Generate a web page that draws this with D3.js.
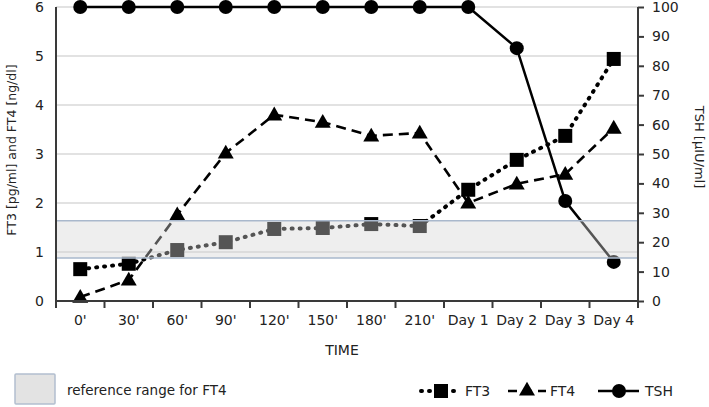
<!DOCTYPE html>
<html><head><meta charset="utf-8">
<script src="https://cdn.jsdelivr.net/npm/d3@7"></script>
<style>body{margin:0;background:#fff}svg{display:block}text{font-family:"DejaVu Sans",Verdana,sans-serif;fill:#222}</style>
</head><body><svg id="c" width="709" height="407"></svg>
<script>
const categories = ["0'","30'","60'","90'","120'","150'","180'","210'","Day 1","Day 2","Day 3","Day 4"];
const ft3 = [0.65,0.76,1.04,1.2,1.47,1.49,1.57,1.53,2.27,2.88,3.37,4.94];
const ft4 = [0.08,0.43,1.76,3.02,3.8,3.65,3.37,3.43,2.0,2.39,2.59,3.53];
const tsh = [100,100,100,100,100,100,100,100,100,86,34,13.3];
const leftTicks = [0,1,2,3,4,5,6];
const rightTicks = [0,10,20,30,40,50,60,70,80,90,100];
const refRange = [0.88,1.64];

const svg = d3.select("#c");
const L=56,R=638,T=7,B=301;
const x = d3.scaleBand().domain(categories).range([L,R]);
const yl = d3.scaleLinear().domain([0,6]).range([B,T]);
const yr = d3.scaleLinear().domain([0,100]).range([B,T]);

// grid
svg.append("g").selectAll("line").data(leftTicks.slice(1)).join("line")
  .attr("x1",L).attr("x2",R).attr("y1",d=>yl(d)).attr("y2",d=>yl(d))
  .attr("stroke","#e2e2e2").attr("stroke-width",2);

const cx = d=>x(d)+x.bandwidth()/2;
function series(vals, scale, dash, width){
  const line = d3.line().x((d,i)=>cx(categories[i])).y(d=>scale(d));
  svg.append("path").datum(vals).attr("d",line).attr("fill","none")
    .attr("stroke","#000").attr("stroke-width",width)
    .attr("stroke-dasharray",dash).attr("stroke-linecap",dash==="1,7"?"round":"butt");
}
series(ft3, yl, "1,7", 4);
series(ft4, yl, "10,6", 2.6);
series(tsh, yr, null, 2.5);
// markers
svg.append("g").selectAll("rect").data(ft3).join("rect")
  .attr("x",(d,i)=>cx(categories[i])-7).attr("y",d=>yl(d)-7).attr("width",14).attr("height",14).attr("fill","#000");
const tri = d3.symbol().type(d3.symbolTriangle).size(110);
svg.append("g").selectAll("path").data(ft4).join("path")
  .attr("d",tri).attr("transform",(d,i)=>`translate(${cx(categories[i])},${yl(d)+1})`).attr("fill","#000");
svg.append("g").selectAll("circle").data(tsh).join("circle")
  .attr("cx",(d,i)=>cx(categories[i])).attr("cy",d=>yr(d)).attr("r",7).attr("fill","#000");

// reference band overlay
svg.append("rect").attr("x",L).attr("width",R-L).attr("y",yl(refRange[1])).attr("height",yl(refRange[0])-yl(refRange[1]))
  .attr("fill","rgb(212,212,212)").attr("fill-opacity",0.4);
[refRange[0],refRange[1]].forEach(v=>svg.append("line").attr("x1",L).attr("x2",R).attr("y1",yl(v)).attr("y2",yl(v))
  .attr("stroke","#a9b8cc").attr("stroke-width",1.5));

// axes
const gl = svg.append("g").attr("transform",`translate(${L},0)`).call(d3.axisLeft(yl).tickValues(leftTicks).tickFormat(d3.format("d")).tickSize(0).tickPadding(12));
const gr = svg.append("g").attr("transform",`translate(${R},0)`).call(d3.axisRight(yr).tickValues(rightTicks).tickFormat(d3.format("d")).tickSize(6).tickPadding(8));
const gx = svg.append("g").attr("transform",`translate(0,${B})`).call(d3.axisBottom(x).tickSize(0).tickPadding(14));
[gl,gr,gx].forEach(g=>{g.select(".domain").attr("stroke","#3a3a3a").attr("stroke-width",2);
  g.selectAll(".tick line").attr("stroke","#3a3a3a").attr("stroke-width",2);
  g.selectAll("text").style("font-size","14px").attr("fill","#222");});
gl.select(".domain").attr("d",`M0,${T}V${B}`);
gr.select(".domain").attr("d",`M0,${T}V${B}`);
gx.select(".domain").attr("d",`M${L},0H${R}`);
// x ticks at band boundaries
svg.append("g").selectAll("line").data(d3.range(categories.length+1)).join("line")
  .attr("x1",i=>L+i*x.step()).attr("x2",i=>L+i*x.step()).attr("y1",B).attr("y2",B+7)
  .attr("stroke","#3a3a3a").attr("stroke-width",2);

// titles
svg.append("text").attr("transform","translate(12,150) rotate(-90)").attr("text-anchor","middle")
  .attr("dy","0.35em").style("font-size","12.5px").text("FT3 [pg/ml] and FT4 [ng/dl]");
svg.append("text").attr("transform","translate(700,147) rotate(90)").attr("text-anchor","middle")
  .attr("dy","0.35em").style("font-size","13px").text("TSH [µIU/ml]");
svg.append("text").attr("x",342).attr("y",355).attr("text-anchor","middle").style("font-size","14px").text("TIME");

// legend
svg.append("rect").attr("x",15).attr("y",374).attr("width",40).attr("height",30).attr("fill","#e3e3e3").attr("stroke","#b3bfcf").attr("stroke-width",1.5).attr("rx",1);
svg.append("text").attr("x",67).attr("y",395).style("font-size","13.5px").text("reference range for FT4");
const ly = 391;
// FT3
svg.append("line").attr("x1",421).attr("x2",460).attr("y1",ly).attr("y2",ly).attr("stroke","#000").attr("stroke-width",4).attr("stroke-dasharray","1,7").attr("stroke-linecap","round");
svg.append("rect").attr("x",434).attr("y",ly-7).attr("width",14).attr("height",14).attr("fill","#000");
svg.append("text").attr("x",465).attr("y",ly+5).style("font-size","14px").text("FT3");
// FT4
svg.append("line").attr("x1",508).attr("x2",546).attr("y1",ly).attr("y2",ly).attr("stroke","#000").attr("stroke-width",2.6).attr("stroke-dasharray","9,6");
svg.append("path").attr("d",tri).attr("transform",`translate(527,${ly})`).attr("fill","#000");
svg.append("text").attr("x",550).attr("y",ly+5).style("font-size","14px").text("FT4");
// TSH
svg.append("line").attr("x1",598).attr("x2",639).attr("y1",ly).attr("y2",ly).attr("stroke","#000").attr("stroke-width",2.5);
svg.append("circle").attr("cx",619).attr("cy",ly).attr("r",7).attr("fill","#000");
svg.append("text").attr("x",645).attr("y",ly+5).style("font-size","14px").text("TSH");
</script></body></html>
